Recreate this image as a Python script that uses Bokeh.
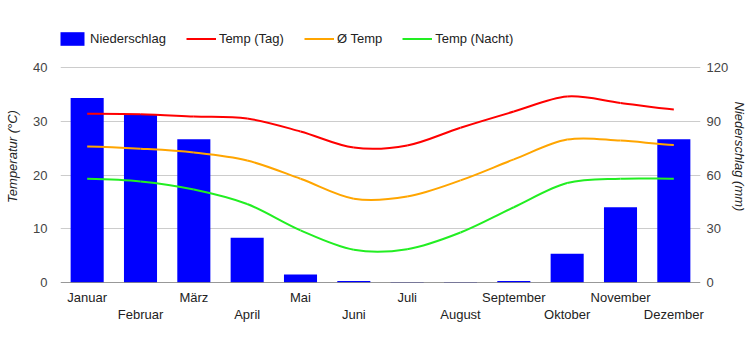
from bokeh.plotting import figure
from bokeh.models import (Range1d, LinearAxis, FixedTicker, Grid, Span, Legend, LegendItem,
                          ColumnDataSource)
from bokeh.embed import file_html
from bokeh.resources import INLINE

months = ["Januar", "Februar", "März", "April", "Mai", "Juni", "Juli", "August",
          "September", "Oktober", "November", "Dezember"]
rain_mm = [103, 94, 80, 25, 4.5, 0.8, 0.3, 0.3, 0.8, 16, 42, 80]
temp_day = [31.4, 31.3, 30.9, 30.5, 28.1, 25.1, 25.5, 28.8, 31.8, 34.6, 33.4, 32.2]
temp_avg = [25.3, 24.9, 24.2, 22.7, 19.3, 15.6, 16.0, 19.0, 22.9, 26.6, 26.4, 25.6]
temp_night = [19.3, 18.8, 17.3, 14.6, 9.7, 6.1, 6.2, 9.3, 14.0, 18.5, 19.3, 19.3]
left_ticks = [0, 10, 20, 30, 40]
right_ticks = [0, 30, 60, 90, 120]

FONT = "Liberation Sans"
xs = [i + 0.5 for i in range(len(months))]

# frame spans y=30..282 px; the value scale (0..40) covers 67..282 px
TOP, Y0, Y40 = 30, 282, 67
ext = (Y0 - TOP) / (Y0 - Y40)

p = figure(width=750, height=350, output_backend="svg", toolbar_location=None,
           x_range=Range1d(0, 12), y_range=Range1d(0, 40 * ext),
           x_axis_type=None, y_axis_type=None,
           min_border_left=60, min_border_right=50, min_border_top=TOP, min_border_bottom=68)
p.outline_line_color = None
p.background_fill_color = "white"
p.extra_y_ranges = {"rain": Range1d(0, 120 * ext)}

# grid
p.add_layout(Grid(dimension=1, ticker=FixedTicker(ticks=left_ticks[1:]), grid_line_color="#cccccc"))

# axes
ya = LinearAxis(ticker=FixedTicker(ticks=left_ticks), axis_label="Temperatur (°C)")
yb = LinearAxis(ticker=FixedTicker(ticks=right_ticks), y_range_name="rain", axis_label="Niederschlag (mm)")
for ax in (ya, yb):
    ax.axis_line_color = None
    ax.major_tick_line_color = None
    ax.minor_tick_line_color = None
    ax.major_tick_out = 0
    ax.minor_tick_out = 0
    ax.major_label_text_font = FONT
    ax.major_label_text_font_size = "13px"
    ax.major_label_text_color = "#444444"
    ax.axis_label_text_font = FONT
    ax.axis_label_text_font_size = "13px"
    ax.axis_label_text_font_style = "italic"
    ax.axis_label_text_color = "#222222"
ya.major_label_standoff = 13
ya.axis_label_standoff = 10
yb.major_label_standoff = 6
yb.axis_label_standoff = 1
p.add_layout(ya, "left")
p.add_layout(yb, "right")

xa1 = LinearAxis(ticker=FixedTicker(ticks=xs[0::2]),
                 major_label_overrides={x: m for x, m in zip(xs[0::2], months[0::2])})
xa2 = LinearAxis(ticker=FixedTicker(ticks=xs[1::2]),
                 major_label_overrides={x: m for x, m in zip(xs[1::2], months[1::2])})
for ax, so in ((xa1, 7), (xa2, -1)):
    ax.axis_line_color = None
    ax.major_tick_line_color = None
    ax.minor_tick_line_color = None
    ax.major_tick_out = 0
    ax.minor_tick_out = 0
    ax.major_label_text_font = FONT
    ax.major_label_text_font_size = "13px"
    ax.major_label_text_color = "#222222"
    ax.major_label_standoff = so
p.add_layout(xa1, "below")
p.add_layout(xa2, "below")

# bars
bars = p.vbar(x=xs, top=rain_mm, width=0.62, y_range_name="rain",
              fill_color="#0000ff", line_color=None)

# baseline
p.add_layout(Span(location=0, dimension="width", line_color="#333333", line_width=1, level="overlay"))


def smooth(ys):
    n = len(ys)
    m = []
    for i in range(n):
        if i == 0:
            m.append((ys[1] - ys[0]) * 0.5)
        elif i == n - 1:
            m.append((ys[-1] - ys[-2]) * 0.5)
        else:
            m.append((ys[i + 1] - ys[i - 1]) / 2)
    d = dict(x0=[], y0=[], x1=[], y1=[], cx0=[], cy0=[], cx1=[], cy1=[])
    for i in range(n - 1):
        d["x0"].append(xs[i]); d["y0"].append(ys[i])
        d["x1"].append(xs[i + 1]); d["y1"].append(ys[i + 1])
        d["cx0"].append(xs[i] + 1 / 3); d["cy0"].append(ys[i] + m[i] / 3)
        d["cx1"].append(xs[i + 1] - 1 / 3); d["cy1"].append(ys[i + 1] - m[i + 1] / 3)
    return ColumnDataSource(d)


items = [LegendItem(label="Niederschlag", renderers=[bars])]
for ys, col, lab in ((temp_day, "#ff0000", "Temp (Tag)"),
                     (temp_avg, "#ffa500", "Ø Temp"),
                     (temp_night, "#22ee22", "Temp (Nacht)")):
    r = p.bezier(x0="x0", y0="y0", x1="x1", y1="y1", cx0="cx0", cy0="cy0", cx1="cx1", cy1="cy1",
                 source=smooth(ys), line_color=col, line_width=2)
    items.append(LegendItem(label=lab, renderers=[r]))

legend = Legend(items=items, orientation="horizontal", location=(-3, 235),
                glyph_width=30, glyph_height=17, label_standoff=3, spacing=20,
                padding=0, margin=0, border_line_color=None, background_fill_alpha=0,
                label_text_font=FONT, label_text_font_size="13px", label_text_color="#222222")
p.add_layout(legend, "center")

open("out.html", "w").write(file_html(p, INLINE))
